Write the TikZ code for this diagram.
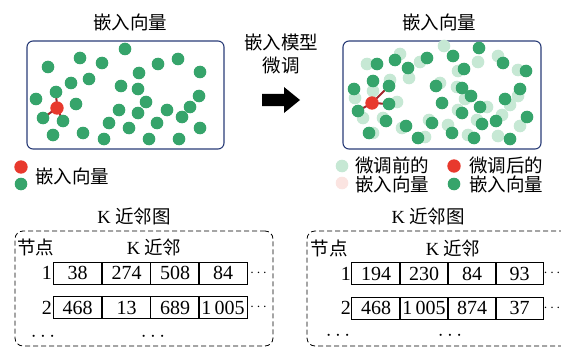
\documentclass[tikz,border=0pt]{standalone}
\usepackage{fontspec}
\setmainfont{Liberation Serif}
\newfontfamily\cjk{Noto Sans CJK SC}
\definecolor{dgreen}{HTML}{36A46B}
\definecolor{lgreen}{HTML}{C6E8D4}
\definecolor{lpink}{HTML}{FBE4E1}
\definecolor{rdot}{HTML}{E8392D}
\definecolor{rline}{HTML}{A3262D}
\definecolor{navy}{HTML}{2A3D78}
\pgfdeclarelayer{bg}
\pgfsetlayers{bg,main}
\begin{document}
\begin{tikzpicture}[x=1pt,y=-1pt,
  dot/.style={circle,inner sep=0pt,minimum size=12.6pt},
  gdot/.style={dot,fill=dgreen},
  ldot/.style={dot,fill=lgreen},
  pdot/.style={dot,fill=lpink},
  redd/.style={dot,fill=rdot,minimum size=13.4pt},
  rl/.style={draw=rline,line width=2pt},
  lbl/.style={inner sep=0pt,font=\cjk\fontsize{18.5}{18.5}\selectfont},
  num/.style={inner sep=0pt,font=\fontsize{20}{20}\selectfont},
  more/.style={inner sep=0pt,font=\fontsize{14}{14}\selectfont,anchor=west},
  cell/.style={draw,line width=0.8pt,minimum width=48.5pt,minimum height=22pt,inner sep=0pt,font=\fontsize{20}{20}\selectfont},
  embbox/.style={draw=navy,line width=1.1pt,rounded corners=6pt,inner sep=0pt},
  dbox/.style={draw,dashed,dash pattern=on 5pt off 3pt,line width=0.8pt,rounded corners=8pt,inner sep=0pt}]
\useasboundingbox (0,0) rectangle (561,350);
\clip (0,0) rectangle (561,350);
\begin{pgfonlayer}{bg}
\fill[white] (0,0) rectangle (561,350);
\end{pgfonlayer}

% ---------- left embedding box ----------
\node[lbl] (t1) at (130,22) {嵌入向量};
\node[embbox,minimum width=197pt,minimum height=108pt] (box1) at (125.5,95) {};
\foreach \x/\y [count=\i] in {125/49,80/58,102/63,48/67,158/64,178/59,139/73,200/72,71/83,89/79,121/86,138/89,36/99,76/104,146/102,199/96,190/107,119/110,138/113,167/110,182/117,109/123,157/123,129/128,200/128,53/135,83/133,104/139,149/139,179/139}
  \node[gdot] (ga\i) at (\x,\y) {};
\node[gdot] (an1) at (56,92) {};
\node[gdot] (an2) at (43,118) {};
\node[gdot] (an3) at (63,121) {};
\node[redd] (ar) at (57,108) {};
\begin{pgfonlayer}{bg}
\draw[rl] (ar.center) -- (an1.center);
\draw[rl] (ar.center) -- (an2.center);
\draw[rl] (ar.center) -- (an3.center);
\end{pgfonlayer}

% legend left
\node[redd] (lr) at (21,167) {};
\node[gdot] (lg) at (21,184) {};
\node[lbl] (lt) at (72,176) {嵌入向量};

% ---------- middle ----------
\node[lbl] (m1) at (281,42) {嵌入模型};
\node[lbl] (m2) at (281,65) {微调};
\fill (262,94) -- (284,94) -- (284,87) -- (300,100) -- (284,113) -- (284,106) -- (262,106) -- cycle;

% ---------- right embedding box ----------
\node[lbl] (t2) at (439,22) {嵌入向量};
\node[embbox,minimum width=198pt,minimum height=108pt] (box2) at (442,95) {};
\foreach \x/\y [count=\i] in {444/46,478/62,498/56,458/71,518/70,367/64,400/54,409/78,420/62,355/98,373/91,390/80,397/102,363/118,383/118,402/128,373/133,425/137,429/120,440/83,457/87,465/99,518/96,487/107,510/105,458/110,502/115,520/126,477/120,448/125,468/135,498/136}
  \node[ldot] (lb\i) at (\x,\y) {};
\foreach \x/\y [count=\i] in {479/48,453/56,377/64,395/60,427/58,408/68,464/69,503/63,526/71,373/81,354/89,436/86,462/88,520/89,471/96,505/99,442/103,480/107,462/113,527/117,496/121,386/121,432/123,482/124,406/126,369/133,452/133,418/138,474/138,510/139}
  \node[gdot] (gb\i) at (\x,\y) {};
\node[gdot] (bn1) at (389,86) {};
\node[gdot] (bn2) at (389,104) {};
\node[gdot] (bn3) at (358,111) {};
\node[redd] (br) at (372,103) {};
\begin{pgfonlayer}{bg}
\draw[rl] (br.center) -- (bn1.center);
\draw[rl] (br.center) -- (bn2.center);
\draw[rl] (br.center) -- (bn3.center);
\end{pgfonlayer}

% legend right
\node[ldot] (rl1) at (342,166) {};
\node[lbl] (rt1) at (392,165) {微调前的};
\node[pdot] (rl2) at (342,183) {};
\node[lbl] (rt2) at (392,184) {嵌入向量};
\node[redd] (rl3) at (454,166) {};
\node[lbl] (rt3) at (506,165) {微调后的};
\node[gdot] (rl4) at (454,184) {};
\node[lbl] (rt4) at (506,184) {嵌入向量};

% ---------- left KNN table ----------
\node[lbl] (k1) at (134,216) {{\fontspec{Liberation Serif}K} 近邻图};
\node[dbox,minimum width=258pt,minimum height=115pt] (kb1) at (144,288.5) {};
\node[lbl] (h1) at (35.5,247) {节点};
\node[lbl] (h2) at (154,247) {{\fontspec{Liberation Serif}K} 近邻};
\node[num,anchor=east] (r1) at (52,273) {1};
\node[cell] (c11) at (77.5,273) {38};
\node[cell] (c12) at (126.5,273) {274};
\node[cell] (c13) at (175,273) {508};
\node[cell] (c14) at (223,273) {84};
\node[more] (e1) at (250,273) {$\cdots$};
\node[num,anchor=east] (r2) at (52,307.5) {2};
\node[cell] (c21) at (77.5,307.5) {468};
\node[cell] (c22) at (126.5,307.5) {13};
\node[cell] (c23) at (175,307.5) {689};
\node[cell] (c24) at (223,307.5) {1\,005};
\node[more] (e2) at (250,307.5) {$\cdots$};
\node[num] (d1) at (43,337) {$\cdots$};
\node[num] (d2) at (153,337) {$\cdots$};

% ---------- right KNN table ----------
\node[lbl] (k2) at (428,216) {{\fontspec{Liberation Serif}K} 近邻图};
\node[dbox,minimum width=273pt,minimum height=115pt] (kb2) at (443.5,288.5) {};
\node[lbl] (h3) at (329,248) {节点};
\node[lbl] (h4) at (453,248) {{\fontspec{Liberation Serif}K} 近邻};
\node[num,anchor=east] (r3) at (351,273.5) {1};
\node[cell] (c31) at (376,273.5) {194};
\node[cell] (c32) at (424,273.5) {230};
\node[cell] (c33) at (472,273.5) {84};
\node[cell] (c34) at (519.5,273.5) {93};
\node[more] (e3) at (543.5,273.5) {$\cdots$};
\node[num,anchor=east] (r4) at (351,308) {2};
\node[cell] (c41) at (376,308) {468};
\node[cell] (c42) at (424,308) {1\,005};
\node[cell] (c43) at (472,308) {874};
\node[cell] (c44) at (519.5,308) {37};
\node[more] (e4) at (543.5,308) {$\cdots$};
\node[num] (d3) at (338,336) {$\cdots$};
\node[num] (d4) at (450,336) {$\cdots$};
\end{tikzpicture}
\end{document}
